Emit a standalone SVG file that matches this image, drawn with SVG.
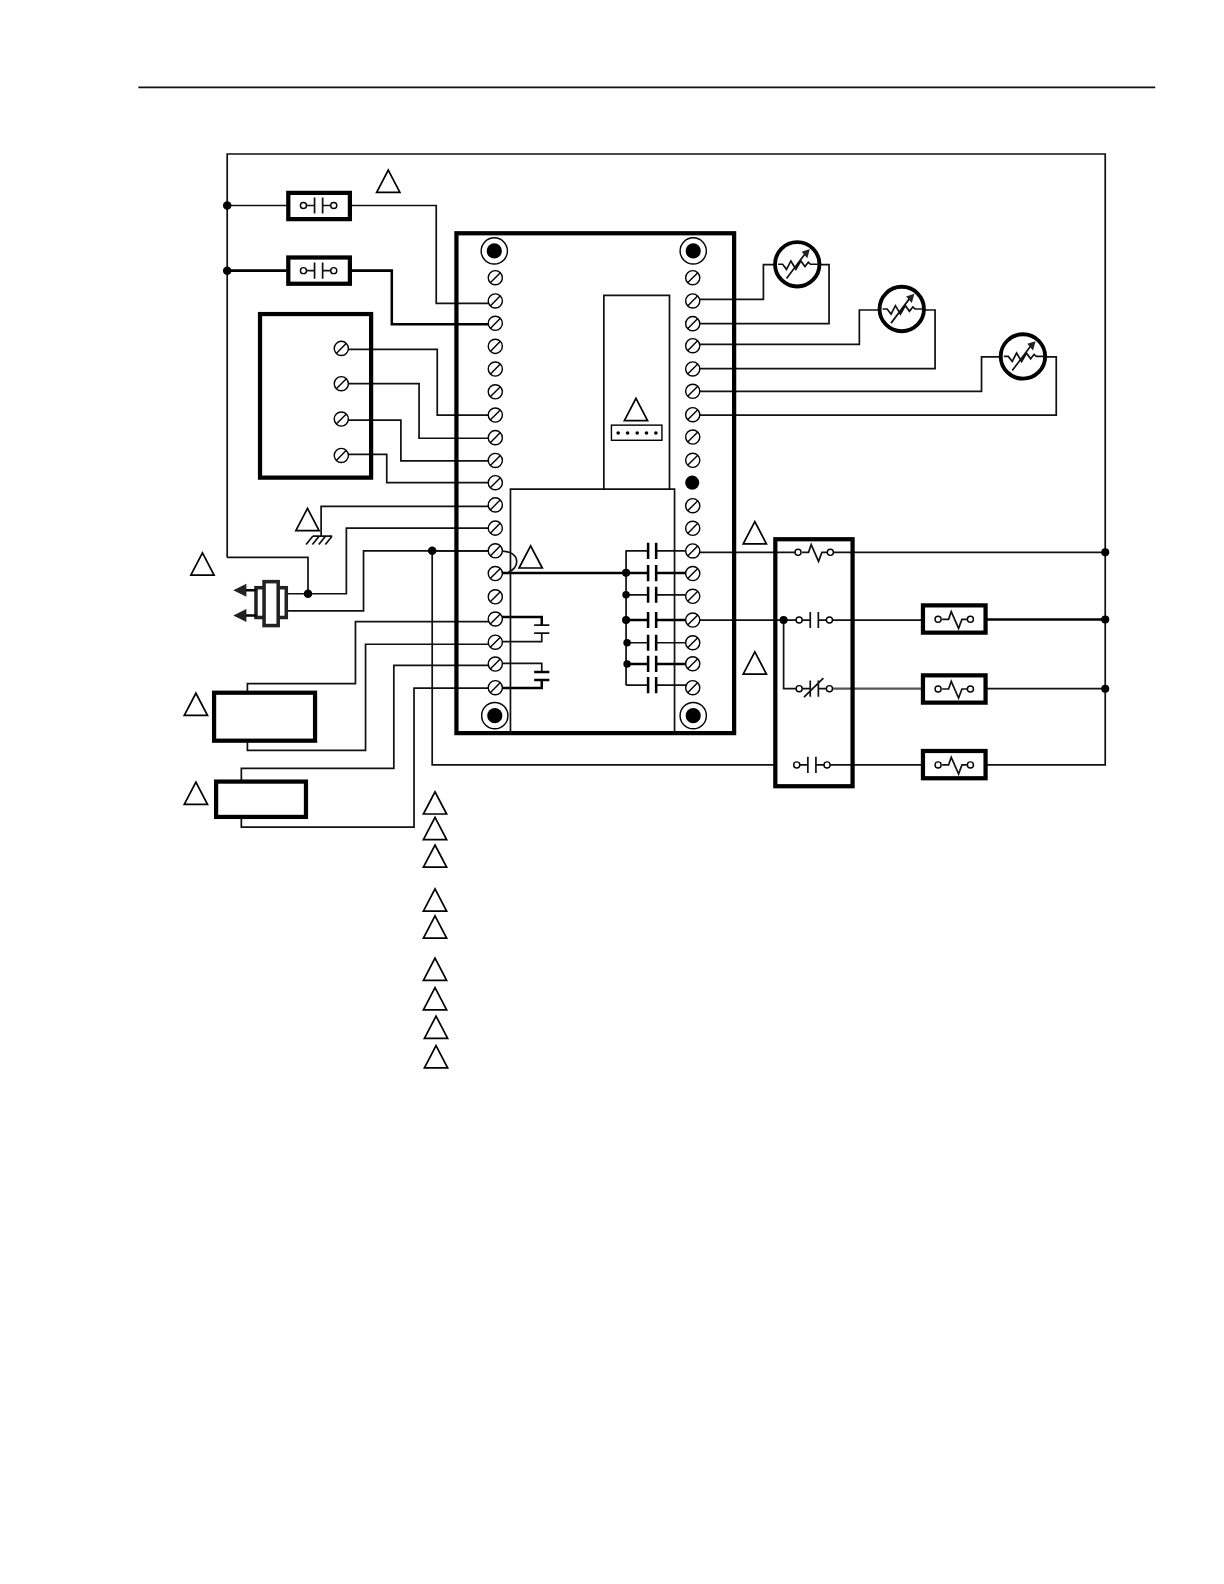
<svg xmlns="http://www.w3.org/2000/svg" width="1224" height="1584" viewBox="0 0 1224 1584">
<style>
.w{fill:none;stroke:#111;stroke-width:1.7}
.t{fill:none;stroke:#000;stroke-width:2.5}
.g{fill:none;stroke:#555;stroke-width:2.2}
.b{fill:#fff;stroke:#000;stroke-width:4.2}
.bn{fill:none;stroke:#000;stroke-width:4.2}
.tri{fill:#fff;stroke:#000;stroke-width:1.7}
.s{fill:#fff;stroke:#000;stroke-width:1.4}
.d{fill:#000}
.o{fill:#fff;stroke:#000;stroke-width:1.4}
</style>
<defs>
<g id="scr"><circle r="7" class="s"/><path d="M-5,5L5,-5" class="s"/></g>
<g id="mnt"><circle r="13" fill="#fff" stroke="#000" stroke-width="1.4"/><circle r="7.5" class="d"/></g>
<path id="tr" d="M0,-11.500L11.500,10.500H-11.500Z" class="tri"/>
<g id="no"><path d="M-12,0H-4M-4,-8V8M4,-8V8M4,0H12" class="w"/><circle cx="-15" r="3" class="o"/><circle cx="15" r="3" class="o"/></g>
<g id="nc"><path d="M-12,0H-4M-4,-8V8M4,-8V8M4,0H12M-10.200,8.300L9,-10.500" class="w"/><circle cx="-15" r="3" class="o"/><circle cx="15" r="3" class="o"/></g>
<g id="ol"><path d="M-12,0H-5.600L-3,-7.600L4.300,9L7.600,0H13" class="w"/><circle cx="-16" r="3" class="o"/><circle cx="16" r="3" class="o"/></g>
<g id="cap"><path d="M-4,-8V8M4,-8V8" class="t"/></g>
<g id="rt"><circle r="22" fill="#fff" stroke="#000" stroke-width="3.800"/><path d="M-19,0H-14.500L-10.600,5L-6.300,-3.300L-1.300,5L3.600,-3.300L7.600,2.300L11,-2L13.200,0H22M-10.600,14L9,-12" class="w"/><path d="M12.500,-15L4.300,-12.500L10,-6Z" fill="#222"/></g>
</defs>
<g transform="scale(1.0098)">
<g id="connectors">
<path d="M137,86.500H1144" class="w"/>
<path d="M225,552V152.500H1094.500V757.500H976M225,552H305V588" class="w"/>
<path d="M225,203.500H284M348,203.500H432V300.500H484" class="w"/>
<path d="M225,268H284M348,268H388V321H484" class="t"/>
<path d="M345,346H433V411H484M345,380H415V434H484M345,416H397V456.300H484M345,450H383V478H484" class="w"/>
<path d="M484,501.500H318V531M484,523H343V588H285M484,545.500H360V605H285" class="w"/>
<path d="M484,615.500H352V677H245V686M484,638H362V743H245V733" class="w"/>
<path d="M484,659H390V761H239V774M484,681.500H410V819H239V808" class="w"/>
<path d="M484,545.500H428V757.500H767" class="w"/>
<path d="M692,296.500H756V262H768M692,320.500H821V262H808M692,341H851V307H870M692,365H926V307H914M692,387.500H972V353.500H990M692,411H1046V353.500H1034" class="w"/>
<path d="M692,547H790M692,614H791M821,547H1094.500M822,614H915" class="w"/>
<path d="M976,613.500H1094.500" class="t"/>
<path d="M776,614V682H791M976,682H1094.500M822,757.500H915" class="w"/>
<path d="M822,682H915" class="g"/>
<path d="M620,545V678.500M620,545.500H680M620,589H680M620,636.500H680M620,678.500H680" class="w"/>
<path d="M497,567.500H620H680M620,614H680M620,657.500H680" class="t"/>
<path d="M497.400,545.700C506,546 511.700,550 511.700,556.200C511.700,561 508,565 503.400,566.500" class="w"/>
<path d="M497,635.400H536.500V627M497,657H536.500V665" class="w"/>
<path d="M529,619H544M529,627H544" class="w"/>
<path d="M497,611H536.500V619M497,681.400H536.500V673.500" class="t"/>
<path d="M529,665.500H544M529,673.500H544" class="t"/>
</g>
<g id="controller">
<rect x="452" y="231" width="275" height="495" class="bn"/>
<path d="M598,484V292.500H663V484M505.500,725V484.300H668V725" class="w"/>
<rect x="605.500" y="421" width="50" height="15" class="s"/>
<g class="d"><circle cx="612.200" cy="428.800" r="1.800"/><circle cx="621.500" cy="428.800" r="1.800"/><circle cx="631" cy="428.800" r="1.800"/><circle cx="640.200" cy="428.800" r="1.800"/><circle cx="649.500" cy="428.800" r="1.800"/></g>
<use href="#mnt" x="489.500" y="248.500"/><use href="#mnt" x="686.500" y="248.500"/><use href="#mnt" x="490" y="708.700"/><use href="#mnt" x="686.500" y="708.700"/>
<use href="#scr" x="490.500" y="275"/><use href="#scr" x="490.500" y="298"/><use href="#scr" x="490.500" y="320.200"/><use href="#scr" x="490.500" y="343"/><use href="#scr" x="490.500" y="365.500"/><use href="#scr" x="490.500" y="388"/><use href="#scr" x="490.500" y="411"/><use href="#scr" x="490.500" y="433.400"/><use href="#scr" x="490.500" y="456"/><use href="#scr" x="490.500" y="478"/><use href="#scr" x="490.500" y="500"/><use href="#scr" x="490.500" y="523"/><use href="#scr" x="490.500" y="545.500"/><use href="#scr" x="490.500" y="568"/><use href="#scr" x="490.500" y="591"/><use href="#scr" x="490.500" y="613"/><use href="#scr" x="490.500" y="636"/><use href="#scr" x="490.500" y="657.600"/><use href="#scr" x="490.500" y="681"/>
<use href="#scr" x="686" y="275"/><use href="#scr" x="686" y="298"/><use href="#scr" x="686" y="320.500"/><use href="#scr" x="686" y="342.300"/><use href="#scr" x="686" y="365.400"/><use href="#scr" x="686" y="387.500"/><use href="#scr" x="686" y="410.700"/><use href="#scr" x="686" y="432.800"/><use href="#scr" x="686" y="455.800"/><circle cx="685.500" cy="478" r="7" class="d"/><use href="#scr" x="686" y="500.800"/><use href="#scr" x="686" y="523.200"/><use href="#scr" x="686" y="545.600"/><use href="#scr" x="686" y="568"/><use href="#scr" x="686" y="590.500"/><use href="#scr" x="686" y="614"/><use href="#scr" x="686" y="636.500"/><use href="#scr" x="686" y="657.300"/><use href="#scr" x="686" y="681"/>
</g>
<g id="contacts">
<g transform="translate(645.800,0)"><rect x="-3" y="537" width="6" height="150" fill="#fff"/><use href="#cap" y="545.500"/><use href="#cap" y="567.500"/><use href="#cap" y="589"/><use href="#cap" y="614"/><use href="#cap" y="636.500"/><use href="#cap" y="657.500"/><use href="#cap" y="678.500"/></g>
</g>
<g id="relay-1"><rect x="285.500" y="191" width="61" height="26" class="b"/><use href="#no" x="315.500" y="203.500"/></g>
<g id="relay-2"><rect x="285.500" y="255" width="61" height="26" class="b"/><use href="#no" x="315.500" y="268"/></g>
<g id="terminal-box"><rect x="257.500" y="311" width="110" height="162" class="bn"/>
<use href="#scr" x="338" y="345"/><use href="#scr" x="338" y="380"/><use href="#scr" x="338" y="415"/><use href="#scr" x="338" y="451"/></g>
<g id="ground"><path d="M309.700,531H329M309.700,531L303.100,539.200M316,531L309.400,539.200M322.300,531L315.700,539.200M328.800,531L322.200,539.200" class="w"/></g>
<g id="transformer"><rect x="253.500" y="582" width="30" height="29.500" fill="#fff" stroke="#222" stroke-width="3.500"/><rect x="261.500" y="576" width="14" height="43.500" fill="#fff" stroke="#222" stroke-width="3.500"/>
<path d="M241,584.500H254M241,609.500H254" class="t"/><path d="M231,584.500L244,578V591ZM231,609.500L244,603V616Z" fill="#222"/></g>
<g id="box-a"><rect x="212" y="686" width="100" height="47.500" class="b"/></g>
<g id="box-b"><rect x="214" y="774" width="89" height="35" class="b"/></g>
<g id="resistor-1"><use href="#rt" x="789.500" y="261.700"/></g>
<g id="resistor-2"><use href="#rt" x="893" y="306"/></g>
<g id="resistor-3"><use href="#rt" x="1013" y="353"/></g>
<g id="contactor"><rect x="767.800" y="534" width="76.500" height="244.600" class="bn"/>
<use href="#ol" x="806.300" y="547"/><use href="#no" x="806.400" y="614"/><use href="#nc" x="806.400" y="682"/><use href="#no" x="804" y="757.500"/></g>
<g id="load-1"><rect x="914" y="599.500" width="62" height="27" class="b"/><use href="#ol" x="945" y="613.300"/></g>
<g id="load-2"><rect x="914" y="668.800" width="62" height="27" class="b"/><use href="#ol" x="945" y="682.300"/></g>
<g id="load-3"><rect x="914" y="743.700" width="62" height="27" class="b"/><use href="#ol" x="945" y="757.500"/></g>
<g id="junctions" class="d">
<circle cx="225" cy="203.500" r="4.200"/><circle cx="225" cy="268" r="4.200"/><circle cx="305" cy="588" r="4.200"/><circle cx="428" cy="545.500" r="4.200"/>
<circle cx="620" cy="567.300" r="4"/><circle cx="620" cy="589" r="3.700"/><circle cx="620" cy="614" r="4"/><circle cx="621" cy="636.500" r="3.700"/><circle cx="621" cy="657.600" r="3.700"/>
<circle cx="776" cy="614" r="4"/><circle cx="1094.500" cy="547" r="4"/><circle cx="1094.500" cy="613.500" r="4"/><circle cx="1094.500" cy="682" r="4"/>
</g>
<g id="notes">
<use href="#tr" x="384.500" y="180"/><use href="#tr" x="629.800" y="406"/><use href="#tr" x="304.500" y="515"/><use href="#tr" x="200.500" y="559"/><use href="#tr" x="525.500" y="552"/><use href="#tr" x="747.500" y="528"/><use href="#tr" x="747.500" y="657"/><use href="#tr" x="194" y="698"/><use href="#tr" x="194" y="786"/>
<use href="#tr" x="430.800" y="795.600"/><use href="#tr" x="430.800" y="820.900"/><use href="#tr" x="430.800" y="848.300"/><use href="#tr" x="430.800" y="891.800"/><use href="#tr" x="430.800" y="918.500"/><use href="#tr" x="430.800" y="960.300"/><use href="#tr" x="430.800" y="989.500"/><use href="#tr" x="431.800" y="1017.800"/><use href="#tr" x="431.800" y="1047"/>
</g>
</g>
</svg>
